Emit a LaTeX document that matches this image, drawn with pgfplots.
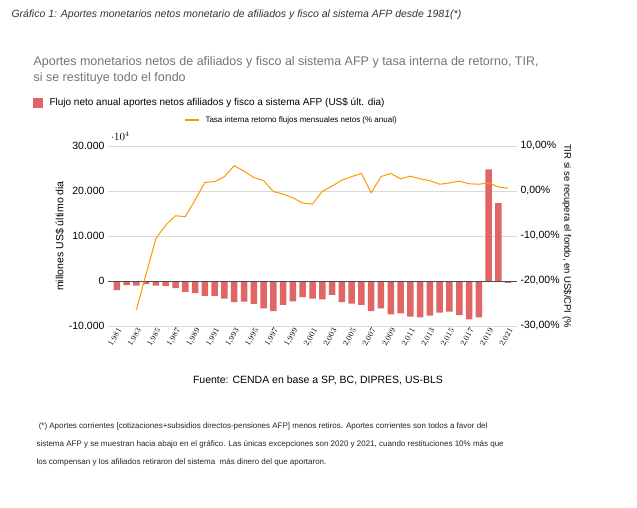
\documentclass[border=0pt]{standalone}
\usepackage{pgfplots}
\pgfplotsset{compat=1.18}
\usepackage{fontspec}
\setmainfont{Liberation Sans}
\definecolor{barc}{HTML}{E06666}
\definecolor{linec}{HTML}{FF9900}
\definecolor{subg}{HTML}{757575}
\begin{document}
\begin{tikzpicture}
\useasboundingbox (0pt,0pt) rectangle (637pt,507pt);
\fill[white] (0pt,0pt) rectangle (637pt,507pt);
\begin{axis}[at={(108pt,181pt)},anchor=south west,scale only axis,width=409pt,height=180pt,
  xmin=1980.1,xmax=2021.9,ymin=-10000,ymax=30000,
  ytick={-10000,0,10000,20000,30000},
  yticklabels={-10.000,0,10.000,20.000,30.000},
  xtick={1981,1983,...,2021},
  xticklabel style={rotate=60,anchor=north east,font=\fontsize{8.5}{9}\selectfont,inner sep=1pt},
  yticklabel style={font=\fontsize{10.5}{11}\selectfont},
  axis line style={draw=none},tick style={draw=none},
  ymajorgrids,grid style={gray!30,line width=0.8pt},
  ylabel={millones US\$ último dia},ylabel style={font=\fontsize{10.5}{11}\selectfont,yshift=-2pt}]
\addplot[ybar,bar width=6.5pt,fill=barc,draw=none] coordinates {
(1981,-2000)(1982,-900)(1983,-1000)(1984,-700)(1985,-1000)(1986,-1100)(1987,-1600)(1988,-2400)(1989,-2700)(1990,-3300)
(1991,-3300)(1992,-3900)(1993,-4700)(1994,-4600)(1995,-5100)(1996,-6100)(1997,-6700)(1998,-5300)(1999,-4500)(2000,-3600)
(2001,-3900)(2002,-4100)(2003,-3100)(2004,-4700)(2005,-5000)(2006,-5300)(2007,-6700)(2008,-6100)(2009,-7400)(2010,-7200)
(2011,-7900)(2012,-8100)(2013,-7700)(2014,-7000)(2015,-6800)(2016,-7600)(2017,-8500)(2018,-8100)(2019,24800)(2020,17300)(2021,-400)};
\draw[black!70,line width=0.8pt] (axis cs:1980.1,0) -- (axis cs:2021.9,0);
\end{axis}
\begin{axis}[at={(108pt,181pt)},anchor=south west,scale only axis,width=409pt,height=180pt,
  xmin=1980.1,xmax=2021.9,ymin=-30,ymax=10,axis y line*=right,axis x line=none,
  ytick={-30,-20,-10,0,10},
  yticklabels={-30{,}00\%,-20{,}00\%,-10{,}00\%,0{,}00\%,10{,}00\%},
  yticklabel style={font=\fontsize{10.5}{11}\selectfont},
  axis line style={draw=none},tick style={draw=none},
  ylabel={TIR si se recupera el fondo, en US\$/CPI (\%},
  ylabel style={font=\fontsize{9.5}{10}\selectfont,rotate=180,yshift=-4pt}]
\addplot[linec,line width=1pt] coordinates {
(1983,-26.4)(1984,-18.4)(1985,-10.5)(1986,-7.6)(1987,-5.5)(1988,-5.7)(1989,-2.0)(1990,1.9)(1991,2.1)(1992,3.2)
(1993,5.6)(1994,4.4)(1995,3.0)(1996,2.3)(1997,-0.1)(1998,-0.7)(1999,-1.5)(2000,-2.7)(2001,-2.9)(2002,-0.1)
(2003,1.1)(2004,2.4)(2005,3.2)(2006,3.9)(2007,-0.4)(2008,3.2)(2009,3.9)(2010,2.7)(2011,3.3)(2012,2.7)
(2013,2.3)(2014,1.5)(2015,1.8)(2016,2.2)(2017,1.6)(2018,1.5)(2019,1.8)(2020,0.9)(2021,0.6)};
\end{axis}
\begin{scope}[x=1pt,y=1pt]
\node[anchor=west,font=\itshape\fontsize{10.5}{11}\selectfont,text=black!80] at (8,492) {Gráfico 1: Aportes monetarios netos monetario de afiliados y fisco al sistema AFP desde 1981(*)};
\node[anchor=west,font=\fontsize{12.5}{13}\selectfont,text=subg] at (30,445) {Aportes monetarios netos de afiliados y fisco al sistema AFP y tasa interna de retorno, TIR,};
\node[anchor=west,font=\fontsize{12.5}{13}\selectfont,text=subg] at (30,429) {si se restituye todo el fondo};
\fill[barc] (33,399) rectangle (43,409);
\node[anchor=west,font=\fontsize{10}{11}\selectfont] at (46,404) {Flujo neto anual aportes netos afiliados y fisco a sistema AFP (US\$ últ. dia)};
\draw[linec,line width=2pt] (185,387) -- (199,387);
\node[anchor=west,font=\fontsize{8}{9}\selectfont] at (202,387) {Tasa interna retorno flujos mensuales netos (\% anual)};
\node[font=\fontsize{10.5}{11}\selectfont] at (318,127) {Fuente: CENDA en base a SP, BC, DIPRES, US-BLS};
\node[anchor=west,font=\fontsize{8}{9}\selectfont,text=black!85] at (33,81) {\ (*) Aportes corrientes [cotizaciones+subsidios directos-pensiones AFP] menos retiros. Aportes corrientes son todos a favor del};
\node[anchor=west,font=\fontsize{8}{9}\selectfont,text=black!85] at (33,63) {sistema AFP y se muestran hacia abajo en el gráfico. Las únicas excepciones son 2020 y 2021, cuando restituciones 10\% más que};
\node[anchor=west,font=\fontsize{8}{9}\selectfont,text=black!85] at (33,45) {los compensan y los afiliados retiraron del sistema \ más dinero del que aportaron.};
\end{scope}
\end{tikzpicture}
\end{document}
